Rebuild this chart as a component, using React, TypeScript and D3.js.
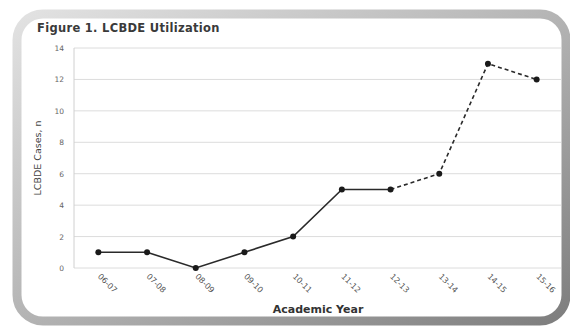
import React from "react";
import * as d3 from "d3";

const years = ["06-07", "07-08", "08-09", "09-10", "10-11", "11-12", "12-13", "13-14", "14-15", "15-16"];
const cases = [1, 1, 0, 1, 2, 5, 5, 6, 13, 12];
// index where the projected (dashed) part of the series begins
const projectedFrom = 6;
const yTicks = [0, 2, 4, 6, 8, 10, 12, 14];

const W = 570;
const H = 327;
const plot = { left: 74, right: 561, top: 48, bottom: 268 };

export default function App() {
  const x = d3.scalePoint<string>().domain(years).range([plot.left, plot.right]).padding(0.5);
  const y = d3.scaleLinear().domain([0, 14]).range([plot.bottom, plot.top]);

  const pts = years.map((yr, i) => ({ yr, v: cases[i], i }));
  const line = d3
    .line<{ yr: string; v: number }>()
    .x((d) => x(d.yr) as number)
    .y((d) => y(d.v));

  const solid = pts.slice(0, projectedFrom + 1);
  const dashed = pts.slice(projectedFrom);

  return (
    <div style={{ position: "absolute", left: 0, top: 0 }}>
      <svg width={W} height={H} style={{ display: "block", background: "#fff" }}>
        <defs>
          <linearGradient id="frameGrad" x1="0" y1="0" x2="1" y2="1">
            <stop offset="0%" stopColor="#e2e2e2" />
            <stop offset="50%" stopColor="#b4b4b4" />
            <stop offset="100%" stopColor="#7e7e7e" />
          </linearGradient>
        </defs>
        <rect
          x={17}
          y={14}
          width={549}
          height={307}
          rx={26}
          ry={26}
          fill="#fff"
          stroke="url(#frameGrad)"
          strokeWidth={9}
        />
        <text
          x={37}
          y={32}
          fontFamily="DejaVu Sans, sans-serif"
          fontWeight="bold"
          fontSize={11.5}
          letterSpacing={0.3}
          fill="#3a3a3a"
        >
          Figure 1. LCBDE Utilization
        </text>

        {yTicks.map((t) => (
          <g key={t}>
            <line
              x1={plot.left}
              x2={plot.right}
              y1={y(t)}
              y2={y(t)}
              stroke="#dcdcdc"
              strokeWidth={1}
            />
            <text
              x={64}
              y={y(t) + 3}
              textAnchor="end"
              fontFamily="DejaVu Sans, sans-serif"
              fontSize={7.5}
              fill="#666"
            >
              {t}
            </text>
          </g>
        ))}
        <line x1={plot.left} x2={plot.left} y1={plot.top} y2={plot.bottom} stroke="#d0d0d0" />

        {years.map((yr) => {
          const px = x(yr) as number;
          return (
            <text
              key={yr}
              transform={`translate(${px - 1},${plot.bottom + 9}) rotate(45)`}
              fontFamily="DejaVu Sans, sans-serif"
              fontSize={8}
              fill="#555"
            >
              {yr}
            </text>
          );
        })}

        <path d={line(solid) || ""} fill="none" stroke="#2a2a2a" strokeWidth={1.6} />
        <path
          d={line(dashed) || ""}
          fill="none"
          stroke="#2a2a2a"
          strokeWidth={1.6}
          strokeDasharray="4,3"
        />
        {pts.map((p) => (
          <circle key={p.yr} cx={x(p.yr) as number} cy={y(p.v)} r={3} fill="#1a1a1a" />
        ))}

        <text
          x={318}
          y={313}
          textAnchor="middle"
          fontFamily="DejaVu Sans, sans-serif"
          fontWeight="bold"
          fontSize={11}
          fill="#333"
        >
          Academic Year
        </text>
        <text
          transform={`translate(41,${(plot.top + plot.bottom) / 2}) rotate(-90)`}
          textAnchor="middle"
          fontFamily="DejaVu Sans, sans-serif"
          fontSize={9.5}
          fill="#444"
        >
          LCBDE Cases, n
        </text>
      </svg>
    </div>
  );
}
